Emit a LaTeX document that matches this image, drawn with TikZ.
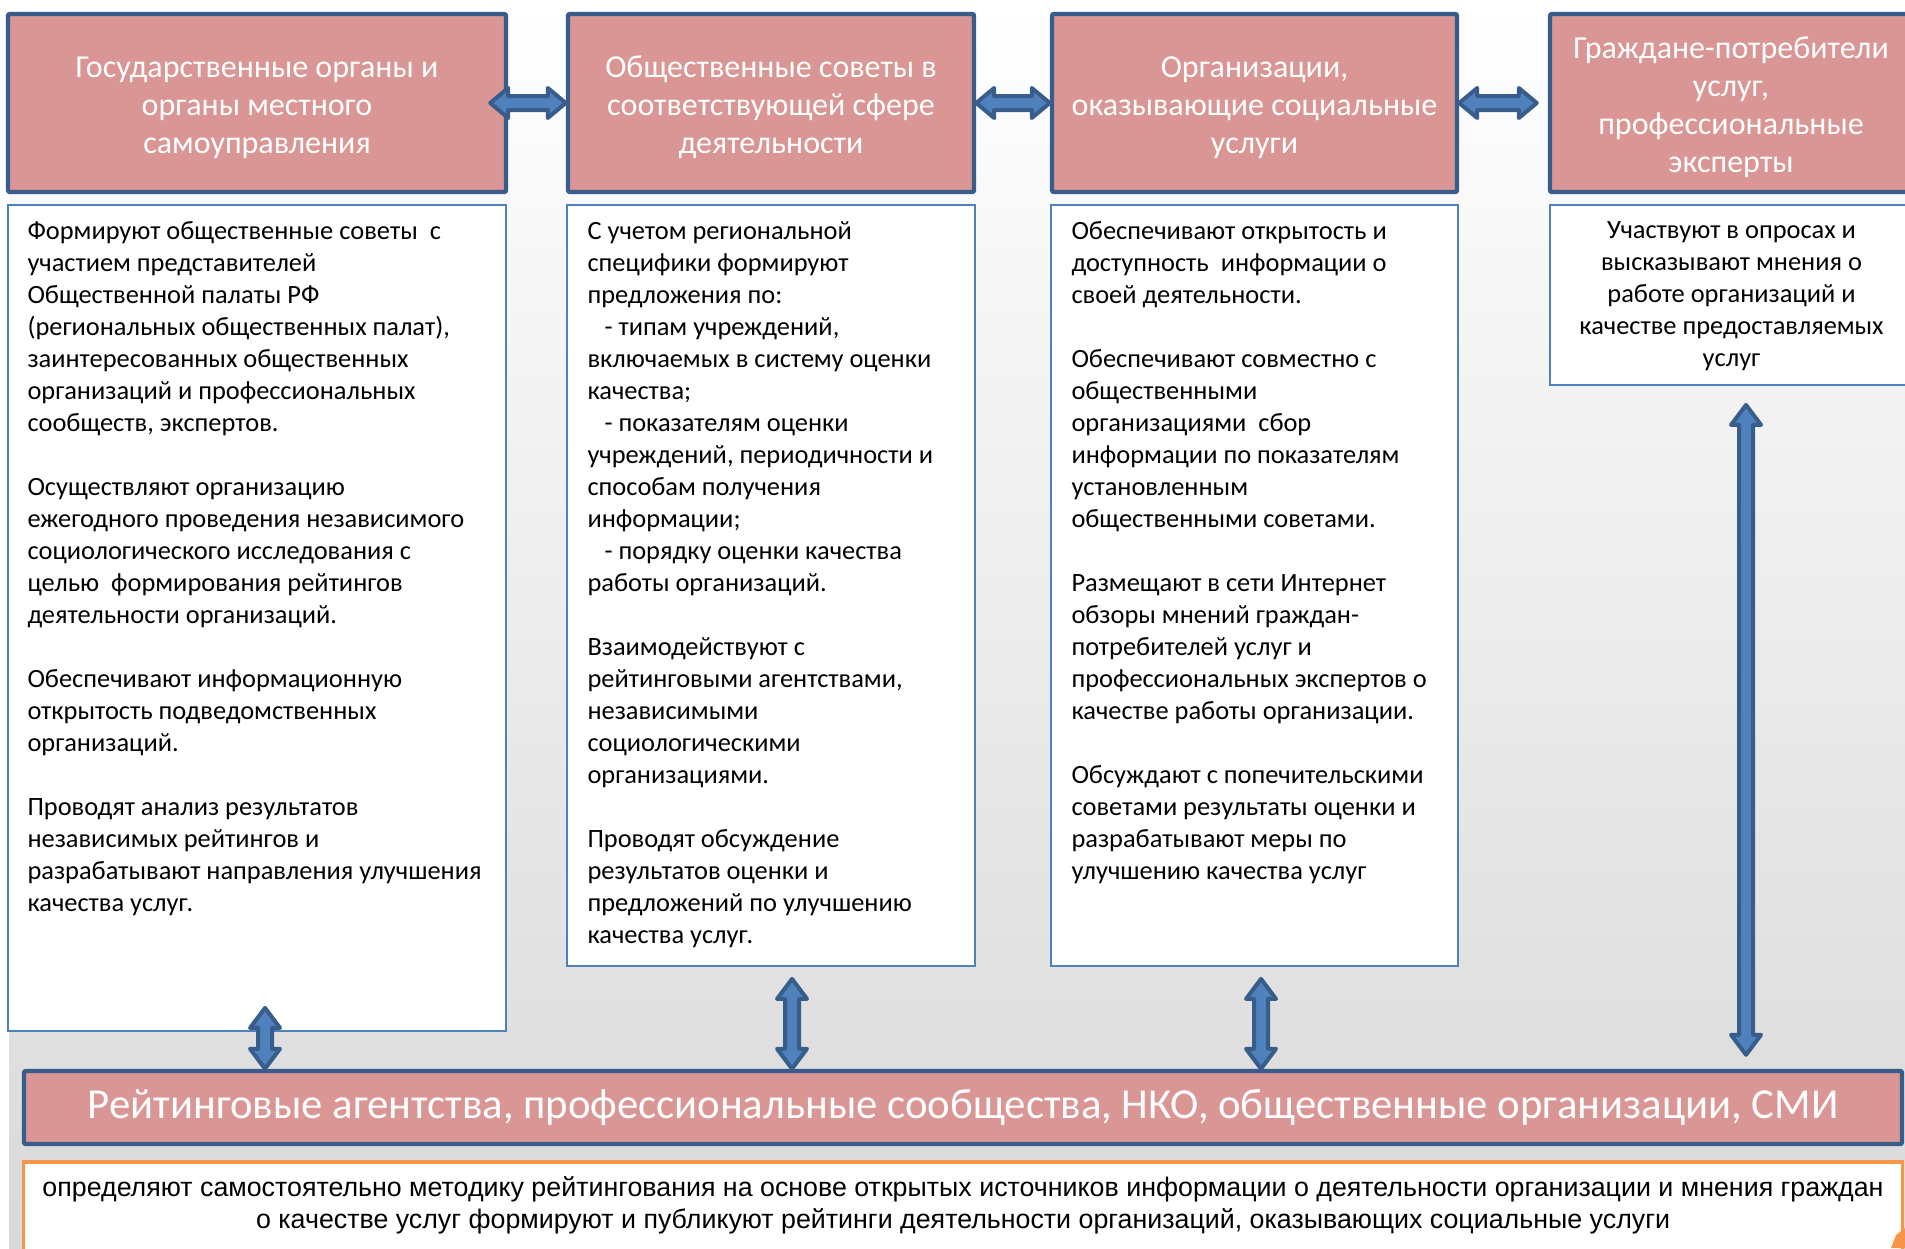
\documentclass[tikz,border=0pt]{standalone}
\usepackage{fontspec}
\setmainfont{Carlito}
\newfontfamily\arialf{Liberation Sans}
\usetikzlibrary{calc}
\definecolor{hdrfill}{HTML}{D99694}
\definecolor{hdrline}{HTML}{385D8A}
\definecolor{arrfill}{HTML}{4F81BD}
\definecolor{arrline}{HTML}{385D8A}
\definecolor{bodyline}{HTML}{4F81BD}
\definecolor{orangeline}{HTML}{F79646}
\definecolor{bggray}{HTML}{D9D9D9}
\tikzset{
 hdr/.style={draw=hdrline, fill=hdrfill, line width=2.2pt, rounded corners=1pt, inner sep=0pt,
   text=white, align=center, font=\fontsize{16}{19}\selectfont},
 bodybox/.style={draw=bodyline, fill=white, line width=0.9pt, inner sep=0pt},
 bodytext/.style={align=left, font=\fontsize{13.2}{16}\selectfont, inner sep=0pt, anchor=north west},
 barrow/.style={fill=arrfill, draw=arrline, line width=2pt, line join=round},
}
\newcommand\hstrut{\rule{0pt}{15.5pt}}
\newcommand\blkH[2]{\draw[barrow] let \p1=#1, \p2=#2 in (\x1,\y1) -- (\x1+9pt,\y1+7.5pt) -- (\x1+9pt,\y1+3.5pt) -- (\x2-9pt,\y1+3.5pt) -- (\x2-9pt,\y1+7.5pt) -- (\x2,\y1) -- (\x2-9pt,\y1-7.5pt) -- (\x2-9pt,\y1-3.5pt) -- (\x1+9pt,\y1-3.5pt) -- (\x1+9pt,\y1-7.5pt) -- cycle;}
\newcommand\blkV[2]{\draw[barrow] let \p1=#1, \p2=#2 in (\x1,\y1) -- (\x1+7.5pt,\y1-10pt) -- (\x1+3.5pt,\y1-10pt) -- (\x1+3.5pt,\y2+10pt) -- (\x1+7.5pt,\y2+10pt) -- (\x1,\y2) -- (\x1-7.5pt,\y2+10pt) -- (\x1-3.5pt,\y2+10pt) -- (\x1-3.5pt,\y1-10pt) -- (\x1-7.5pt,\y1-10pt) -- cycle;}
\begin{document}
\begin{tikzpicture}[x=0.5pt,y=-0.5pt]
\useasboundingbox (0,0) rectangle (1905,1248);
\clip (0,0) rectangle (1905,1248);
\fill[white] (0,0) rectangle (1905,1248);
\shade[top color=white, bottom color=bggray] (9,0) rectangle (1905,1248);

% headers
\node[hdr, minimum width=249pt, minimum height=89pt] (h1) at (257,103) {\hstrut Государственные органы и\\органы местного\\самоуправления};
\node[hdr, minimum width=203pt, minimum height=89pt] (h2) at (771,103) {\hstrut Общественные советы в\\соответствующей сфере\\деятельности};
\node[hdr, minimum width=202.5pt, minimum height=89pt] (h3) at (1254.5,103) {\hstrut Организации,\\оказывающие социальные\\услуги};
\node[hdr, minimum width=181pt, minimum height=89pt] (h4) at (1731,103) {\hstrut Граждане-потребители\\услуг,\\профессиональные\\эксперты};

% body boxes
\node[bodybox, minimum width=249pt, minimum height=413pt] (b1) at (257,618) {};
\node[bodybox, minimum width=204pt, minimum height=380.5pt] (b2) at (771,585.5) {};
\node[bodybox, minimum width=203.5pt, minimum height=380.5pt] (b3) at (1254.5,585.5) {};
\node[bodybox, minimum width=181.5pt, minimum height=90pt] (b4) at (1731.5,295) {};

\node[bodytext] (t1) at ($(b1.north west)+(20,17)$) {Формируют общественные советы\ \ с\\
участием представителей\\
Общественной палаты РФ\\
(региональных общественных палат),\\
заинтересованных общественных\\
организаций и профессиональных\\
сообществ, экспертов.\\[16pt]
Осуществляют организацию\\
ежегодного проведения независимого\\
социологического исследования с\\
целью\ \ формирования рейтингов\\
деятельности организаций.\\[16pt]
Обеспечивают информационную\\
открытость подведомственных\\
организаций.\\[16pt]
Проводят анализ результатов\\
независимых рейтингов и\\
разрабатывают направления улучшения\\
качества услуг.};

\node[bodytext] (t2) at ($(b2.north west)+(21,17)$) {С учетом региональной\\
специфики формируют\\
предложения по:\\
\hspace*{8.5pt}- типам учреждений,\\
включаемых в систему оценки\\
качества;\\
\hspace*{8.5pt}- показателям оценки\\
учреждений, периодичности и\\
способам получения\\
информации;\\
\hspace*{8.5pt}- порядку оценки качества\\
работы организаций.\\[16pt]
Взаимодействуют с\\
рейтинговыми агентствами,\\
независимыми\\
социологическими\\
организациями.\\[16pt]
Проводят обсуждение\\
результатов оценки и\\
предложений по улучшению\\
качества услуг.};

\node[bodytext] (t3) at ($(b3.north west)+(21,17)$) {Обеспечивают открытость и\\
доступность\ \ информации о\\
своей деятельности.\\[16pt]
Обеспечивают совместно с\\
общественными\\
организациями\ \ сбор\\
информации по показателям\\
установленным\\
общественными советами.\\[16pt]
Размещают в сети Интернет\\
обзоры мнений граждан-\\
потребителей услуг и\\
профессиональных экспертов о\\
качестве работы организации.\\[16pt]
Обсуждают с попечительскими\\
советами результаты оценки и\\
разрабатывают меры по\\
улучшению качества услуг};

\node[bodytext, align=center, anchor=north] (t4) at ($(b4.north)+(0,17)$) {Участвуют в опросах и\\
высказывают мнения о\\
работе организаций и\\
качестве предоставляемых\\
услуг};

% bottom
\node[hdr, minimum width=939pt, minimum height=36.5pt, font=\fontsize{21.35}{25}\selectfont] (r) at (963,1107.5) {Рейтинговые агентства, профессиональные сообщества, НКО, общественные организации, СМИ};
\node[draw=orangeline, fill=white, line width=1.8pt, inner sep=0pt, minimum width=939.5pt, minimum height=50pt] (o) at (963,1212) {};
\node[font=\arialf\fontsize{13.4}{16}\selectfont, align=center, inner sep=0pt] (ot) at (963,1205) {определяют самостоятельно методику рейтингования на основе открытых источников информации о деятельности организации и мнения граждан\\о качестве услуг формируют и публикуют рейтинги деятельности организаций, оказывающих социальные услуги};
\fill[orangeline] (1891,1248) -- (1896,1235) -- (1905,1228) -- (1905,1248) -- cycle;

% horizontal arrows
\blkH{($(h1.east)+(-18,0)$)}{(h2.west)}
\blkH{(h2.east)}{(h3.west)}
\blkH{(h3.east)}{($(h4.west)+(-11,0)$)}

% vertical arrows
\coordinate (v1t) at ($(b1.south)+(8,-24)$);
\coordinate (v2t) at ($(b2.south)+(21,12)$);
\coordinate (v3t) at ($(b3.south)+(6.5,12)$);
\coordinate (v4t) at ($(b4.south)+(14.5,19)$);
\blkV{(v1t)}{(v1t |- r.north)}
\blkV{(v2t)}{(v2t |- r.north)}
\blkV{(v3t)}{(v3t |- r.north)}
\blkV{(v4t)}{($(v4t |- r.north)+(0,-14)$)}
\end{tikzpicture}
\end{document}
